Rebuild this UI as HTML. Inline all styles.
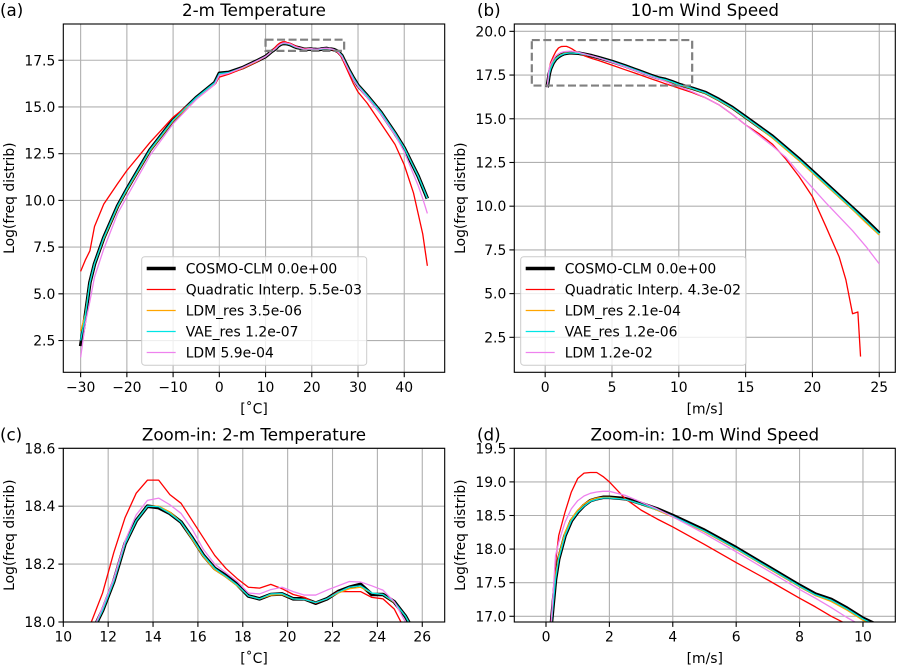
<!DOCTYPE html>
<html><head><meta charset="utf-8">
<style>
html,body{margin:0;padding:0;background:#fff;width:900px;height:671px;overflow:hidden;}
svg{display:block;position:absolute;left:0;top:0;overflow:hidden;font-family:"DejaVu Sans","Liberation Sans",sans-serif;}
</style></head>
<body>
<svg id="fig" width="900" height="671" viewBox="0 0 900 671" xmlns="http://www.w3.org/2000/svg"></svg>
<script>
// ---- Temperature data ----
const tempX = [-30,-29,-28,-27,-25,-22,-20,-15,-10,-5,-1,0,2,5,8,10,
 10.75,11.25,11.75,12.25,12.75,13.25,13.75,14.25,14.75,15.25,15.75,16.25,16.75,17.25,17.75,18.25,18.75,19.25,19.75,20.25,20.75,21.25,21.75,22.25,22.75,23.25,23.75,24.25,24.75,25.25,25.75,
 26.5,27,28,29,30,32,35,38,40,42,43,44,45];
const tempCosmo = [2.2,3.8,5.6,6.6,8.0,9.7,10.6,12.7,14.3,15.5,16.3,16.8,16.85,17.1,17.45,17.7,
 17.85,17.96,18.04,18.14,18.27,18.35,18.40,18.395,18.375,18.345,18.29,18.23,18.185,18.16,18.13,18.09,18.08,18.095,18.097,18.08,18.08,18.065,18.08,18.105,18.12,18.13,18.095,18.095,18.07,18.02,17.95,
 17.75,17.5,17.0,16.55,16.15,15.6,14.7,13.6,12.8,11.8,11.3,10.7,10.1];
const tempQuad = [6.2,6.8,7.3,8.6,9.8,10.9,11.6,13.1,14.45,15.45,16.2,16.6,16.75,17.05,17.4,17.7,
 17.85,18.0,18.1,18.24,18.36,18.445,18.49,18.49,18.44,18.41,18.35,18.29,18.23,18.185,18.15,18.12,18.117,18.13,18.115,18.095,18.085,18.065,18.08,18.105,18.105,18.105,18.085,18.08,18.045,17.97,17.88,
 17.65,17.35,16.8,16.25,15.8,15.2,14.1,13.0,11.9,10.4,9.3,8.2,6.5];
const tempLdmRes = [3.0,3.9,5.6,6.6,7.95,9.65,10.55,12.65,14.25,15.45,16.25,16.75,16.82,17.08,17.43,17.7,
 17.85,17.96,18.04,18.14,18.27,18.35,18.40,18.40,18.38,18.345,18.285,18.225,18.18,18.155,18.125,18.09,18.08,18.093,18.095,18.08,18.078,18.067,18.08,18.1,18.115,18.12,18.1,18.095,18.068,18.02,17.95,
 17.75,17.5,17.0,16.55,16.15,15.6,14.7,13.6,12.8,11.8,11.3,10.7,10.1];
const tempVaeRes = [2.5,3.8,5.6,6.6,8.0,9.7,10.6,12.7,14.3,15.5,16.3,16.78,16.84,17.1,17.45,17.7,
 17.85,17.96,18.04,18.14,18.27,18.35,18.40,18.398,18.375,18.345,18.29,18.23,18.185,18.158,18.128,18.09,18.08,18.097,18.098,18.08,18.078,18.067,18.08,18.103,18.12,18.125,18.1,18.095,18.07,18.02,17.95,
 17.75,17.5,17.0,16.55,16.15,15.6,14.7,13.6,12.8,11.8,11.3,10.7,10.1];
const tempLdm = [1.6,3.4,4.6,5.9,7.4,9.3,10.2,12.4,14.1,15.4,16.2,16.7,16.8,17.1,17.45,17.7,
 17.85,17.96,18.05,18.15,18.28,18.37,18.42,18.428,18.405,18.375,18.32,18.25,18.2,18.17,18.14,18.1,18.097,18.112,18.12,18.105,18.093,18.093,18.11,18.125,18.14,18.138,18.125,18.11,18.07,18.0,17.92,
 17.7,17.45,16.95,16.45,16.1,15.5,14.6,13.5,12.6,11.4,10.8,10.1,9.3];

// ---- Wind data ----
const windX = [0.15,0.3,0.4,0.6,0.8,1.0,1.2,1.4,1.6,1.8,2.0,2.5,3,3.5,4,5,6,7,8,8.5,9,9.5,10,11,12,13,14,15,16,17,18,19,20,21,22,23,24,25];
const windCosmo = [16.8,17.55,17.85,18.2,18.42,18.55,18.65,18.72,18.75,18.77,18.77,18.75,18.68,18.6,18.5,18.28,18.02,17.74,17.46,17.33,17.25,17.12,16.97,16.75,16.5,16.1,15.65,15.1,14.55,14.0,13.35,12.7,12.0,11.3,10.6,9.9,9.2,8.45];
const windLdmRes = [16.8,17.6,17.9,18.25,18.45,18.58,18.67,18.73,18.76,18.77,18.77,18.74,18.67,18.58,18.48,18.26,18.0,17.72,17.44,17.31,17.22,17.09,16.94,16.72,16.45,16.05,15.6,15.05,14.5,13.9,13.25,12.6,11.9,11.2,10.5,9.8,9.05,8.35];
const windVaeRes = [16.8,17.55,17.85,18.2,18.42,18.55,18.64,18.71,18.74,18.76,18.76,18.74,18.67,18.59,18.49,18.27,18.01,17.73,17.45,17.32,17.24,17.11,16.96,16.74,16.48,16.08,15.63,15.08,14.53,13.97,13.32,12.67,11.97,11.27,10.57,9.87,9.15,8.42];
const windLdm = [16.8,17.9,18.1,18.4,18.6,18.72,18.79,18.83,18.85,18.86,18.86,18.8,18.7,18.6,18.48,18.23,17.96,17.68,17.4,17.27,17.13,16.98,16.85,16.55,16.2,15.8,15.25,14.65,14.05,13.45,12.8,11.9,11.05,10.2,9.4,8.6,7.7,6.7];
const windQuadX = [0.15,0.3,0.4,0.6,0.8,1.0,1.2,1.4,1.6,1.8,2.0,2.5,3,3.5,4,5,6,7,8,8.5,9,9.5,10,11,12,13,14,15,16,17,18,19,20,21,22,22.5,23,23.4,23.6];
const windQuad = [16.8,17.8,18.2,18.55,18.85,19.05,19.13,19.14,19.14,19.08,19.0,18.75,18.58,18.45,18.33,18.07,17.8,17.54,17.27,17.14,17.0,16.88,16.75,16.5,16.2,15.8,15.25,14.65,14.15,13.55,12.7,11.7,10.55,8.85,7.1,5.8,3.85,3.95,1.4];

// ---- Legend / ticks ----
const seriesNames = ["COSMO-CLM","Quadratic Interp.","LDM_res","VAE_res","LDM"];
const tempScores = ["0.0e+00","5.5e-03","3.5e-06","1.2e-07","5.9e-04"];
const windScores = ["0.0e+00","4.3e-02","2.1e-04","1.2e-06","1.2e-02"];
const ticksAx = [-30,-20,-10,0,10,20,30,40];
const ticksAy = [2.5,5.0,7.5,10.0,12.5,15.0,17.5];
const ticksBx = [0,5,10,15,20,25];
const ticksBy = [2.5,5.0,7.5,10.0,12.5,15.0,17.5,20.0];
const ticksCx = [10,12,14,16,18,20,22,24,26];
const ticksCy = [18.0,18.2,18.4,18.6];
const ticksDx = [0,2,4,6,8,10];
const ticksDy = [17.0,17.5,18.0,18.5,19.0,19.5];
const zoomTempBox = [10,27,18.0,18.6];
const zoomWindBox = [-1,11,16.9,19.5];

const colors = ["#000000","#ff0000","#ffa500","#00e5e5","#ee82ee"];
const widths = [3.6,1.3,1.3,1.3,1.3];
const NS = "http://www.w3.org/2000/svg";
const svg = document.getElementById("fig");
function mk(tag, attrs, parent){const e=document.createElementNS(NS,tag);for(const k in attrs)e.setAttribute(k,attrs[k]);(parent||svg).appendChild(e);return e;}

function panel(cfg){
  const g = mk("g",{});
  
  
  const sx = v => cfg.px0 + (v-cfg.x0)/(cfg.x1-cfg.x0)*(cfg.px1-cfg.px0);
  const sy = v => cfg.py1 - (v-cfg.y0)/(cfg.y1-cfg.y0)*(cfg.py1-cfg.py0);
  const cid = "clip-"+cfg.name;
  const cp = mk("clipPath",{id:cid},g);
  mk("rect",{x:cfg.px0,y:cfg.py0,width:cfg.px1-cfg.px0,height:cfg.py1-cfg.py0},cp);
  cfg.xt.forEach(t=>{
    const x=sx(t);
    const gl=mk("line",{x1:x,x2:x,y1:cfg.py0,y2:cfg.py1,stroke:"#b0b0b0","stroke-width":1.1},g);
    
    
    mk("line",{x1:x,x2:x,y1:cfg.py1,y2:cfg.py1+4.9,stroke:"#000","stroke-width":1.1},g);
    const tl=mk("text",{x:x,y:cfg.py1+19.5,"font-size":13.9,"text-anchor":"middle"},g);
    tl.textContent = t<0 ? "\u2212"+Math.abs(t) : String(t);
    
    
  });
  cfg.yt.forEach(t=>{
    const y=sy(t);
    const gl=mk("line",{x1:cfg.px0,x2:cfg.px1,y1:y,y2:y,stroke:"#b0b0b0","stroke-width":1.1},g);
    
    
    mk("line",{x1:cfg.px0-4.9,x2:cfg.px0,y1:y,y2:y,stroke:"#000","stroke-width":1.1},g);
    const tl=mk("text",{x:cfg.px0-8,y:y+5,"font-size":13.9,"text-anchor":"end"},g);
    tl.textContent = t.toFixed(1);
    
    
  });
  const lg = mk("g",{"clip-path":"url(#"+cid+")"},g);
  cfg.series.forEach((s,i)=>{
    let d="";
    s.x.forEach((xv,j)=>{d+=(j?"L":"M")+sx(xv).toFixed(2)+","+sy(s.y[j]).toFixed(2);});
    const p=mk("path",{d:d,fill:"none",stroke:colors[i],"stroke-width":widths[i],"stroke-linejoin":"round"},lg);
    
    
  });
  if(cfg.box){
    const b=cfg.box;
    const r=mk("rect",{x:sx(b[0]),y:sy(b[3]),width:sx(b[1])-sx(b[0]),height:sy(b[2])-sy(b[3]),fill:"none",stroke:"#808080","stroke-width":2.2,"stroke-dasharray":"8,3.5"},g);
    
    
  }
  const sp=mk("rect",{x:cfg.px0,y:cfg.py0,width:cfg.px1-cfg.px0,height:cfg.py1-cfg.py0,fill:"none",stroke:"#000","stroke-width":1.1},g);
  
  
  const cx=(cfg.px0+cfg.px1)/2;
  const tt=mk("text",{x:cx,y:cfg.py0-8,"font-size":16.7,"text-anchor":"middle"},g);
  tt.textContent=cfg.title;
  
  
  const pl=mk("text",{x:cfg.labelX,y:cfg.py0-8,"font-size":16.7},g);
  pl.textContent=cfg.label;
  
  
  const xl=mk("text",{x:cx,y:cfg.py1+41,"font-size":13.9,"text-anchor":"middle"},g);
  xl.textContent=cfg.xlabel;
  
  
  const ycy=(cfg.py0+cfg.py1)/2;
  const yl=mk("text",{x:cfg.ylabX,y:ycy,"font-size":13.9,"text-anchor":"middle",transform:"rotate(-90 "+cfg.ylabX+" "+ycy+")"},g);
  yl.textContent="Log(freq distrib)";
  
  
  if(cfg.legend){
    const L=cfg.legend;
    const lgG=mk("g",{},g);
    
    
    mk("rect",{x:L.x,y:L.y,width:L.w,height:108.5,rx:3,fill:"#fff","fill-opacity":0.8,stroke:"#cccccc","stroke-width":1},lgG);
    seriesNames.forEach((n,i)=>{
      const yy=L.y+11.8+i*21;
      const e=mk("g",{},lgG);
      
      
      mk("line",{x1:L.x+5,x2:L.x+34,y1:yy,y2:yy,stroke:colors[i],"stroke-width":widths[i]},e);
      const t=mk("text",{x:L.x+44,y:yy+5,"font-size":13.9},e);
      t.textContent=n+" "+L.scores[i];
    });
  }
}

function mkSeries(xs, ys){return ys.map((y,i)=>({x:xs[i],y:y}));}
const tempSeries = mkSeries([tempX,tempX,tempX,tempX,tempX],[tempCosmo,tempQuad,tempLdmRes,tempVaeRes,tempLdm]);
const windSeries = mkSeries([windX,windQuadX,windX,windX,windX],[windCosmo,windQuad,windLdmRes,windVaeRes,windLdm]);

panel({name:"panel-a-temperature",px0:63.3,px1:444.7,py0:24,py1:372.3,x0:-33.75,x1:48.75,y0:0.8,y1:19.44,
  xt:ticksAx,yt:ticksAy,series:tempSeries,box:zoomTempBox,title:"2-m Temperature",label:"(a)",labelX:0,
  xlabel:"[\u02DAC]",ylabX:14,legend:{x:141.7,y:256.7,w:225,scores:tempScores}});
panel({name:"panel-b-wind",px0:514.3,px1:895.3,py0:24,py1:372.3,x0:-2.31,x1:26.2,y0:0.5,y1:20.42,
  xt:ticksBx,yt:ticksBy,series:windSeries,box:zoomWindBox,title:"10-m Wind Speed",label:"(b)",labelX:477,
  xlabel:"[m/s]",ylabX:465,legend:{x:520.7,y:256.7,w:225.3,scores:windScores}});
panel({name:"panel-c-temperature-zoom",px0:63.3,px1:444.7,py0:448.3,py1:622,x0:10,x1:27,y0:18.0,y1:18.6,
  xt:ticksCx,yt:ticksCy,series:tempSeries,title:"Zoom-in: 2-m Temperature",label:"(c)",labelX:0,
  xlabel:"[\u02DAC]",ylabX:14});
panel({name:"panel-d-wind-zoom",px0:514.3,px1:895.3,py0:448.3,py1:622,x0:-1,x1:11.02,y0:16.915,y1:19.5,
  xt:ticksDx,yt:ticksDy,series:windSeries,title:"Zoom-in: 10-m Wind Speed",label:"(d)",labelX:477,
  xlabel:"[m/s]",ylabX:465});
</script>
</body></html>
